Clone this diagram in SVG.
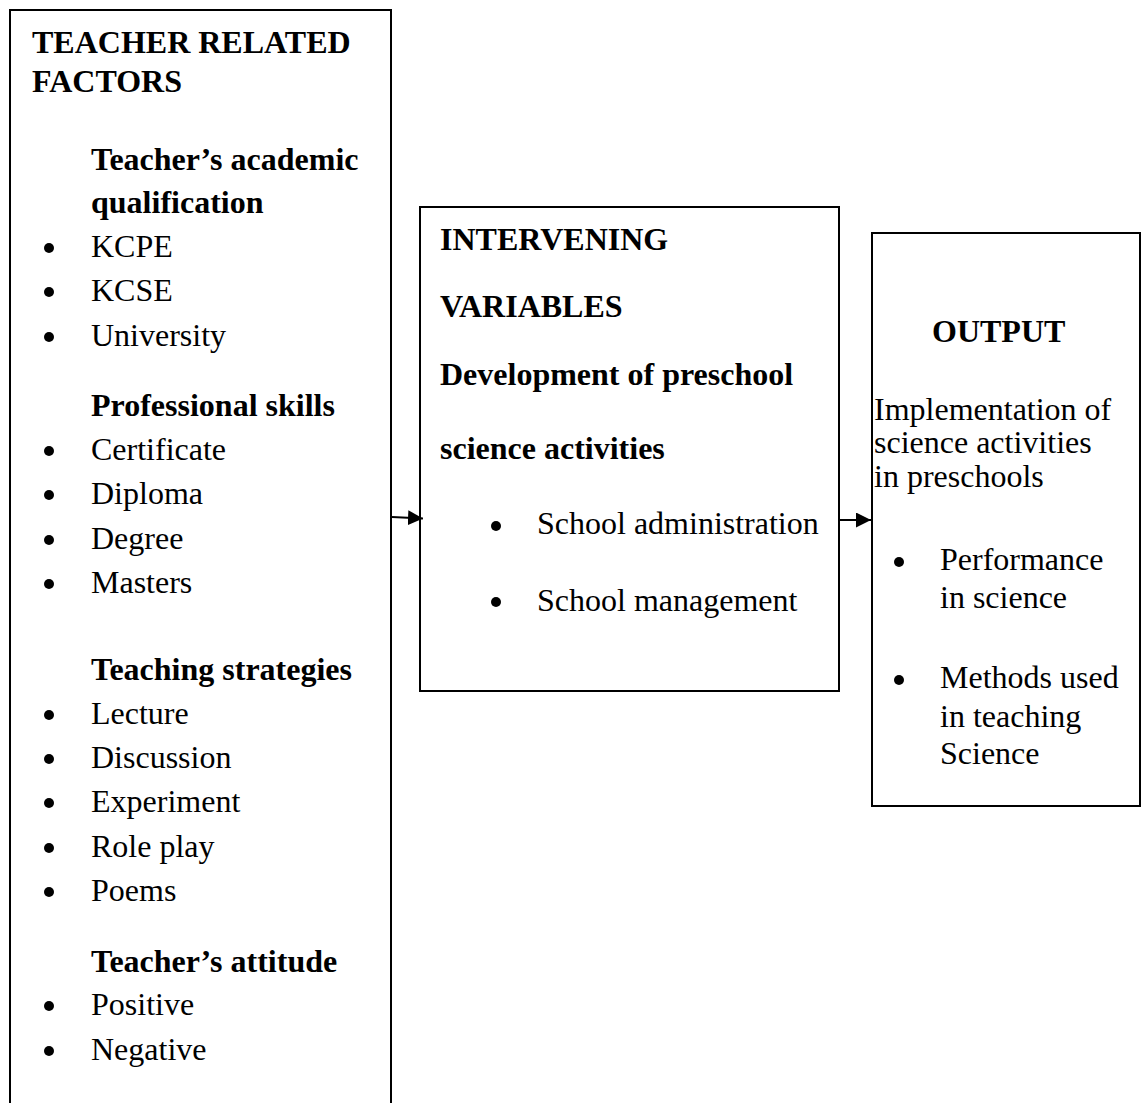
<svg xmlns="http://www.w3.org/2000/svg" width="1142" height="1103" viewBox="0 0 1142 1103">
<style>
.box{fill:none;stroke:#000;stroke-width:2}
.t{font-family:"Liberation Serif","Times New Roman",serif;font-size:32px;fill:#000}
.b{font-weight:bold}
.dot{fill:#000}
.conn{stroke:#000;stroke-width:2;fill:none}
</style>
<defs>
<marker id="arr" viewBox="0 0 15 15" refX="15" refY="7.5" markerWidth="15" markerHeight="15" markerUnits="userSpaceOnUse" orient="auto">
<path d="M0,0 L15,7.5 L0,15 Z" fill="#000"/>
</marker>
</defs>
<rect width="1142" height="1103" fill="#fff"/>

<g id="teacher-factors">
<path class="box" d="M10,1110 L10,10 L391,10 L391,1110"/>
<text class="t b" x="32" y="53">TEACHER RELATED</text>
<text class="t b" x="32" y="92">FACTORS</text>
<text class="t b" x="91" y="170">Teacher’s academic</text>
<text class="t b" x="91" y="213">qualification</text>
<circle class="dot" cx="49" cy="248" r="5"/><text class="t" x="91" y="257">KCPE</text>
<circle class="dot" cx="49" cy="292" r="5"/><text class="t" x="91" y="301">KCSE</text>
<circle class="dot" cx="49" cy="337" r="5"/><text class="t" x="91" y="346">University</text>
<text class="t b" x="91" y="416">Professional skills</text>
<circle class="dot" cx="49" cy="451" r="5"/><text class="t" x="91" y="460">Certificate</text>
<circle class="dot" cx="49" cy="495" r="5"/><text class="t" x="91" y="504">Diploma</text>
<circle class="dot" cx="49" cy="540" r="5"/><text class="t" x="91" y="549">Degree</text>
<circle class="dot" cx="49" cy="584" r="5"/><text class="t" x="91" y="593">Masters</text>
<text class="t b" x="91" y="680">Teaching strategies</text>
<circle class="dot" cx="49" cy="715" r="5"/><text class="t" x="91" y="724">Lecture</text>
<circle class="dot" cx="49" cy="759" r="5"/><text class="t" x="91" y="768">Discussion</text>
<circle class="dot" cx="49" cy="803" r="5"/><text class="t" x="91" y="812">Experiment</text>
<circle class="dot" cx="49" cy="848" r="5"/><text class="t" x="91" y="857">Role play</text>
<circle class="dot" cx="49" cy="892" r="5"/><text class="t" x="91" y="901">Poems</text>
<text class="t b" x="91" y="972">Teacher’s attitude</text>
<circle class="dot" cx="49" cy="1006" r="5"/><text class="t" x="91" y="1015">Positive</text>
<circle class="dot" cx="49" cy="1051" r="5"/><text class="t" x="91" y="1060">Negative</text>
</g>

<g id="intervening-variables">
<rect class="box" x="420" y="207" width="419" height="484"/>
<text class="t b" x="440" y="250">INTERVENING</text>
<text class="t b" x="440" y="317">VARIABLES</text>
<text class="t b" x="440" y="385">Development of preschool</text>
<text class="t b" x="440" y="459">science activities</text>
<circle class="dot" cx="496" cy="526" r="5"/><text class="t" x="537" y="534">School administration</text>
<circle class="dot" cx="496" cy="602" r="5"/><text class="t" x="537" y="611">School management</text>
</g>

<g id="output">
<rect class="box" x="872" y="233" width="268" height="573"/>
<text class="t b" x="932" y="342">OUTPUT</text>
<text class="t" x="874" y="420">Implementation of</text>
<text class="t" x="874" y="453">science activities</text>
<text class="t" x="874" y="487">in preschools</text>
<circle class="dot" cx="899" cy="562" r="5"/><text class="t" x="940" y="570">Performance</text>
<text class="t" x="940" y="608">in science</text>
<circle class="dot" cx="899" cy="680" r="5"/><text class="t" x="940" y="688">Methods used</text>
<text class="t" x="940" y="727">in teaching</text>
<text class="t" x="940" y="764">Science</text>
</g>

<g id="connectors">
<path class="conn" d="M392,517 L423,518.5" marker-end="url(#arr)"/>
<path class="conn" d="M840,520 L871,520" marker-end="url(#arr)"/>
</g>
</svg>
